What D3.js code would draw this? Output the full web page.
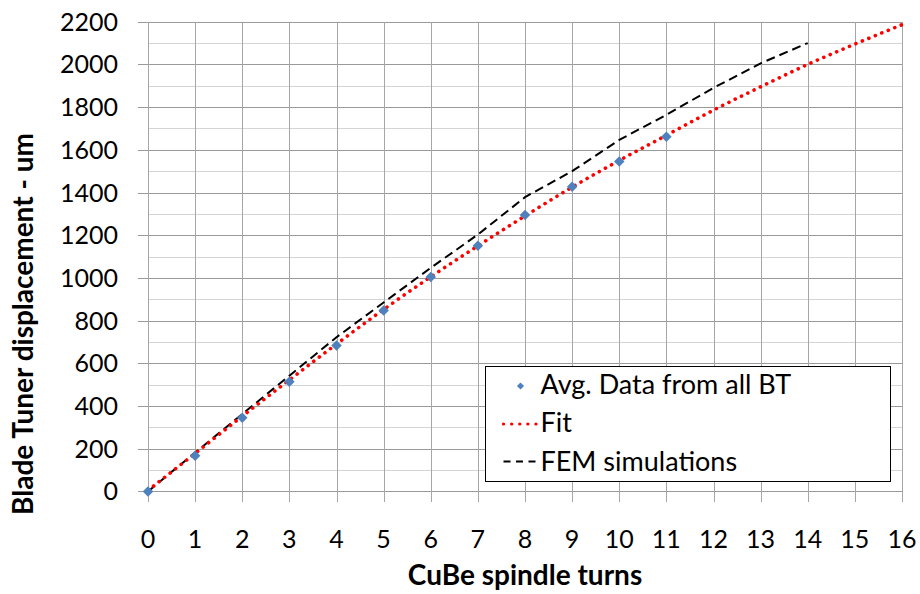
<!DOCTYPE html>
<html>
<head>
<meta charset="utf-8">
<script src="https://cdn.jsdelivr.net/npm/d3@7"></script>
<style>
  body { margin: 0; background: #fff; }
  svg { display: block; font-family: Lato, "Open Sans", sans-serif; }
</style>
</head>
<body>
<svg id="chart" width="920" height="594"></svg>
<script>
// measured data (avg of all blade tuners)
const dataTurns = [0, 1, 2, 3, 4, 5, 6, 7, 8, 9, 10, 11];
const dataDisp = [0, 167, 345, 514, 683, 847, 1004, 1151, 1295, 1427, 1545, 1661];

// fit curve at each turn
const fitTurns = [0, 1, 2, 3, 4, 5, 6, 7, 8, 9, 10, 11, 12, 13, 14, 15, 16];
const fitDisp = [5, 178, 352, 522, 690, 852, 1005, 1150, 1290, 1425, 1550, 1668, 1786, 1895, 2000, 2095, 2186];

// FEM simulations
const femTurns = [0, 1, 2, 3, 4, 5, 6, 7, 8, 9, 10, 11, 12, 13, 14];
const femDisp = [0, 182, 362, 542, 722, 885, 1047, 1203, 1378, 1500, 1646, 1764, 1890, 2005, 2100];

const xTicks = [0, 1, 2, 3, 4, 5, 6, 7, 8, 9, 10, 11, 12, 13, 14, 15, 16];
const yTicks = [0, 200, 400, 600, 800, 1000, 1200, 1400, 1600, 1800, 2000, 2200];
const yMinor = [100, 300, 500, 700, 900, 1100, 1300, 1500, 1700, 1900, 2100];

const legendItems = ["Avg. Data from all BT", "Fit", "FEM simulations"];

const plotL = 148, plotR = 902, plotT = 21.7, plotB = 491.4;

const svg = d3.select("#chart");
const x = d3.scaleLinear().domain([0, 16]).range([plotL, plotR]);
const y = d3.scaleLinear().domain([0, 2200]).range([plotB, plotT]);
const crisp = v => Math.round(v) + 0.5;

const grid = svg.append("g").attr("shape-rendering", "crispEdges");

// minor horizontal gridlines
grid.selectAll("line.minor")
  .data(yMinor)
  .join("line")
  .attr("class", "minor")
  .attr("x1", plotL).attr("x2", plotR)
  .attr("y1", d => crisp(y(d))).attr("y2", d => crisp(y(d)))
  .attr("stroke", "#d4d4d4");

// major horizontal gridlines, with tick stubs to the left
grid.selectAll("line.major")
  .data(yTicks)
  .join("line")
  .attr("class", "major")
  .attr("x1", plotL - 10).attr("x2", plotR)
  .attr("y1", d => crisp(y(d))).attr("y2", d => crisp(y(d)))
  .attr("stroke", "#9a9a9a");

// vertical gridlines, with tick stubs below
grid.selectAll("line.vert")
  .data(xTicks)
  .join("line")
  .attr("class", "vert")
  .attr("x1", d => crisp(x(d))).attr("x2", d => crisp(x(d)))
  .attr("y1", plotT).attr("y2", plotB + 11)
  .attr("stroke", "#a6a6a6");

// tick labels
svg.append("g")
  .attr("font-size", 25)
  .attr("fill", "#000")
  .attr("text-anchor", "end")
  .selectAll("text")
  .data(yTicks)
  .join("text")
  .attr("x", 118)
  .attr("y", d => y(d) + 9)
  .text(d => d);

svg.append("g")
  .attr("font-size", 25)
  .attr("fill", "#000")
  .attr("text-anchor", "middle")
  .selectAll("text")
  .data(xTicks)
  .join("text")
  .attr("x", d => x(d))
  .attr("y", 548)
  .text(d => d);

// axis titles
svg.append("text")
  .attr("x", (plotL + plotR) / 2)
  .attr("y", 585)
  .attr("text-anchor", "middle")
  .attr("font-size", 28)
  .attr("font-weight", "bold")
  .text("CuBe spindle turns");

svg.append("text")
  .attr("transform", "translate(33,324) rotate(-90)")
  .attr("text-anchor", "middle")
  .attr("font-size", 28)
  .attr("font-weight", "bold")
  .text("Blade Tuner displacement - um");

// series
const fem = femTurns.map((t, i) => [t, femDisp[i]]);
const fit = fitTurns.map((t, i) => [t, fitDisp[i]]);

svg.append("path")
  .datum(fem)
  .attr("fill", "none")
  .attr("stroke", "#000")
  .attr("stroke-width", 2)
  .attr("stroke-dasharray", "9,5")
  .attr("d", d3.line().x(d => x(d[0])).y(d => y(d[1])));

svg.append("path")
  .datum(fit)
  .attr("fill", "none")
  .attr("stroke", "#ff0000")
  .attr("stroke-width", 3.6)
  .attr("stroke-linecap", "round")
  .attr("stroke-dasharray", "0.1,6.9")
  .attr("d", d3.line().curve(d3.curveMonotoneX).x(d => x(d[0])).y(d => y(d[1])));

const diamond = d3.symbol().type(d3.symbolSquare).size(55);
svg.append("g")
  .selectAll("path")
  .data(dataTurns)
  .join("path")
  .attr("transform", (d, i) => `translate(${x(d)},${y(dataDisp[i])}) rotate(45)`)
  .attr("d", diamond)
  .attr("fill", "#4f81bd");

// legend
const lg = svg.append("g").attr("transform", "translate(485.5,366.5)");
lg.append("rect")
  .attr("width", 405).attr("height", 115)
  .attr("fill", "#fff")
  .attr("stroke", "#000")
  .attr("stroke-width", 1);

lg.selectAll("text")
  .data(legendItems)
  .join("text")
  .attr("x", 55)
  .attr("y", (d, i) => 27 + i * 38.5)
  .attr("font-size", 27)
  .text(d => d);

lg.append("path")
  .attr("transform", "translate(35,19.5) rotate(45)")
  .attr("d", d3.symbol().type(d3.symbolSquare).size(26))
  .attr("fill", "#4f81bd");

lg.append("line")
  .attr("x1", 18).attr("x2", 52)
  .attr("y1", 57.5).attr("y2", 57.5)
  .attr("stroke", "#ff0000")
  .attr("stroke-width", 3.2)
  .attr("stroke-linecap", "round")
  .attr("stroke-dasharray", "0.1,8");

lg.append("line")
  .attr("x1", 18).attr("x2", 52)
  .attr("y1", 95).attr("y2", 95)
  .attr("stroke", "#000")
  .attr("stroke-width", 2)
  .attr("stroke-dasharray", "7,5.5");
</script>
</body>
</html>
